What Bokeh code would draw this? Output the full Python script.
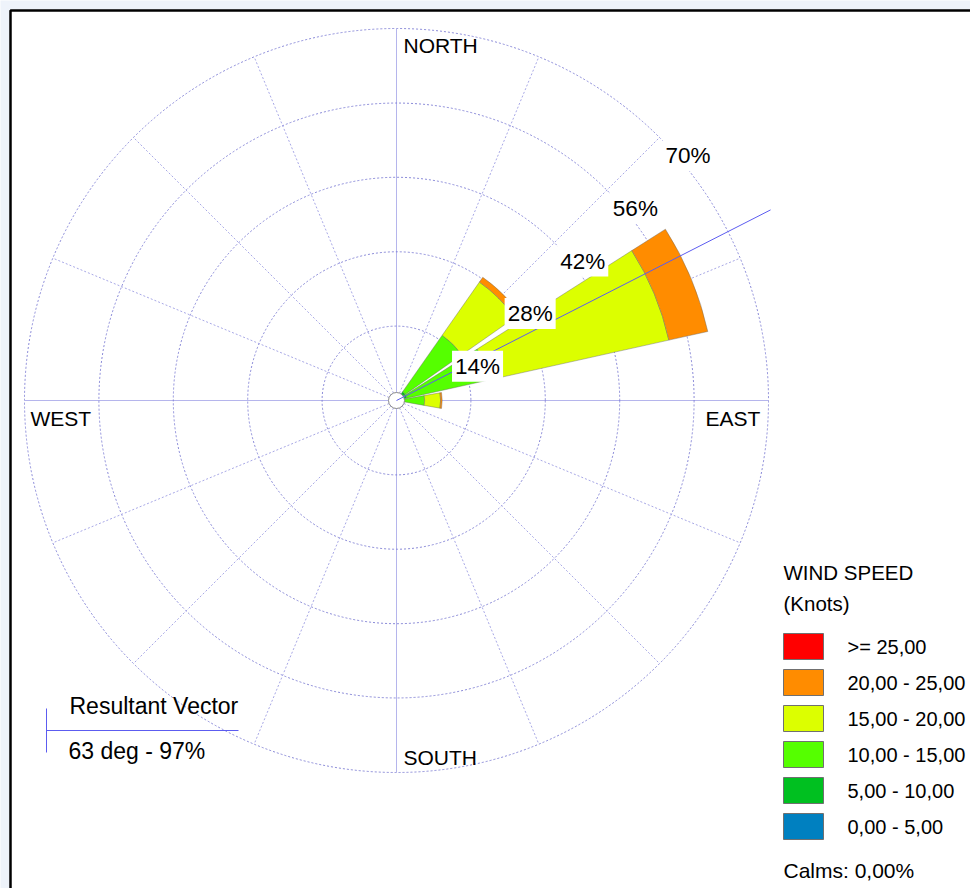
import numpy as np
from bokeh.plotting import figure
from bokeh.models import Range1d, Label
from bokeh.core.properties import value
from bokeh.embed import file_html
from bokeh.resources import INLINE

# ---------------- data ----------------
directions = ["N", "NNE", "NE", "ENE", "E", "ESE", "SE", "SSE",
              "S", "SSW", "SW", "WSW", "W", "WNW", "NW", "NNW"]
# frequency (%) per direction for each wind-speed class
freq_0_5   = [0, 0, 0.3, 0.5, 0.0, 0, 0, 0, 0, 0, 0, 0, 0, 0, 0, 0]
freq_5_10  = [0, 0, 1.7, 1.5, 0.5, 0, 0, 0, 0, 0, 0, 0, 0, 0, 0, 0]
freq_10_15 = [0, 0, 13.0, 16.0, 4.8, 0, 0, 0, 0, 0, 0, 0, 0, 0, 0, 0]
freq_15_20 = [0, 0, 12.2, 34.5, 3.0, 0, 0, 0, 0, 0, 0, 0, 0, 0, 0, 0]
freq_20_25 = [0, 0, 1.1, 7.5, 0.3, 0, 0, 0, 0, 0, 0, 0, 0, 0, 0, 0]
freq_25p   = [0, 0, 0, 0, 0, 0, 0, 0, 0, 0, 0, 0, 0, 0, 0, 0]

class_labels = ["0,00 - 5,00", "5,00 - 10,00", "10,00 - 15,00",
                "15,00 - 20,00", "20,00 - 25,00", ">= 25,00"]
class_colors = ["#0080c0", "#00c020", "#55ff00", "#dcff00", "#ff8c00", "#ff0000"]

ring_pcts = [14, 28, 42, 56, 70]
cardinal_labels = ["NORTH", "EAST", "SOUTH", "WEST"]
resultant_deg = 63
resultant_pct = 97
calms_pct = 0.0

# ---------------- layout helpers ----------------
W, H = 970, 888
CX, CY = 396, 400            # rose centre in pixels
S = 372 / 70                 # pixels per percent
WEDGE_HALF = 10              # degrees
CALM_R = 8 / S
RV_LEN = 79


def P(px, py):
    return (px - CX) / S, (CY - py) / S


p = figure(width=W, height=H, output_backend="svg", toolbar_location=None,
           x_range=Range1d(-CX / S, (W - CX) / S),
           y_range=Range1d(-(H - CY) / S, CY / S),
           min_border=0, min_border_left=0, min_border_right=0,
           min_border_top=0, min_border_bottom=0)
p.axis.visible = False
p.grid.visible = False
p.outline_line_color = None
p.background_fill_color = "#eef3fa"
p.border_fill_color = "#eef3fa"

FONT = value("Liberation Sans")

# frame
x0, y0 = P(10, 10)
x1, y1 = P(985, 900)
p.quad(left=[x0], right=[x1], top=[y0], bottom=[y1],
       fill_color="white", line_color="black", line_width=2.5)

# rings
p.circle(x=[0] * len(ring_pcts), y=[0] * len(ring_pcts), radius=ring_pcts,
         fill_color=None, line_color="#8a8ad8", line_width=1, line_dash="2 2")

# spokes
dir_deg = np.arange(len(directions)) * 22.5
rmax = max(ring_pcts)
card = [d for d in dir_deg if d % 90 == 0]
other = [d for d in dir_deg if d % 90 != 0]
for group, col, dash in ((other, "#a8a8e6", "2 2"), (card, "#6a6ad8", "1 1")):
    a = np.radians(90 - np.array(group))
    p.segment(x0=list(CALM_R * np.cos(a)), y0=list(CALM_R * np.sin(a)),
              x1=list(rmax * np.cos(a)), y1=list(rmax * np.sin(a)),
              line_color=col, line_width=1, line_dash=dash)

# wedges
classes = [freq_0_5, freq_5_10, freq_10_15, freq_15_20, freq_20_25, freq_25p]
cum = np.zeros(len(directions))
for freq, col in zip(classes, class_colors):
    f = np.array(freq, dtype=float)
    inner = cum.copy()
    cum = cum + f
    m = f > 0
    if not m.any():
        continue
    centre = np.radians(90 - dir_deg[m])
    p.annular_wedge(x=[0] * int(m.sum()), y=[0] * int(m.sum()),
                    inner_radius=list(inner[m]), outer_radius=list(cum[m]),
                    start_angle=list(centre - np.radians(WEDGE_HALF)),
                    end_angle=list(centre + np.radians(WEDGE_HALF)),
                    fill_color=col, line_color="#666666", line_width=0.6,
                    line_alpha=0.7)

# calm circle
p.circle(x=[0], y=[0], radius=CALM_R, fill_color="white",
         line_color="#8a8a8a", line_width=1)

# resultant vector
ra = np.radians(90 - resultant_deg)
p.segment(x0=[0], y0=[0], x1=[RV_LEN * np.cos(ra)], y1=[RV_LEN * np.sin(ra)],
          line_color="#5c5cf0", line_width=1)

# ring labels
for r in ring_pcts:
    lx = r * np.cos(np.radians(45)) + 5.35
    ly = r * np.sin(np.radians(45)) - 3.45
    p.add_layout(Label(x=lx, y=ly, text=f"{r}%", text_align="center",
                       text_baseline="middle", text_font="Liberation Sans",
                       text_font_size="22.5px", text_color="black",
                       padding=3,
                       background_fill_color="white", background_fill_alpha=1.0))

# cardinal labels
cx_, cy_ = zip(P(403, 45), P(705, 418), P(403, 757), P(30, 418))
p.text(x=list(cx_), y=list(cy_), text=cardinal_labels, text_font=FONT,
       text_font_size="21px", text_align="left", text_baseline="middle",
       text_color="black")

# legend
tx, ty = zip(P(783, 572), P(783, 603))
p.text(x=list(tx), y=list(ty), text=["WIND SPEED", "(Knots)"], text_font=FONT,
       text_font_size="20.5px", text_align="left", text_baseline="middle",
       text_color="black")
leg_labels = class_labels[::-1]
leg_colors = class_colors[::-1]
lefts, rights, tops, bots, lx, ly = [], [], [], [], [], []
for i in range(len(leg_labels)):
    top = 633 + 36 * i
    a0, b0 = P(783, top)
    a1, b1 = P(823, top + 26)
    lefts.append(a0); rights.append(a1); tops.append(b0); bots.append(b1)
    u, v = P(847, top + 13)
    lx.append(u); ly.append(v)
p.quad(left=lefts, right=rights, top=tops, bottom=bots, fill_color=leg_colors,
       line_color="#707070", line_width=1)
p.text(x=lx, y=ly, text=leg_labels, text_font=FONT, text_font_size="20px",
       text_align="left", text_baseline="middle", text_color="black")
cx2, cy2 = P(783, 870)
p.text(x=[cx2], y=[cy2], text=[f"Calms: {calms_pct:.2f}%".replace(".", ",")],
       text_font=FONT, text_font_size="21px", text_align="left",
       text_baseline="middle", text_color="black")

# resultant vector legend
a0, b0 = P(46, 730)
a1, b1 = P(238, 730)
c0, d0 = P(46, 708)
c1, d1 = P(46, 752)
p.segment(x0=[a0, c0], y0=[b0, d0], x1=[a1, c1], y1=[b1, d1],
          line_color="#5c5cf0", line_width=1)
rx, ry = zip(P(69, 705), P(68, 750))
p.text(x=list(rx), y=list(ry),
       text=["Resultant Vector", f"{resultant_deg} deg - {resultant_pct}%"],
       text_font=FONT, text_font_size="23px", text_align="left",
       text_baseline="middle", text_color="black")

open("out.html", "w").write(file_html(p, INLINE))
